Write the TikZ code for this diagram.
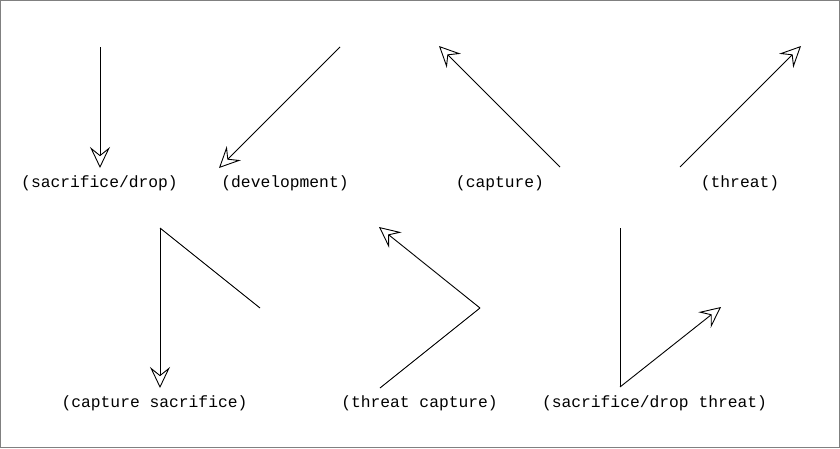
\documentclass[tikz,border=0pt]{standalone}
\usepackage{fontspec}
\setmonofont{Liberation Mono}
\usetikzlibrary{arrows.meta}
\tikzset{
  mv/.style={draw=black, line width=0.9pt, -{Stealth[open, fill=white, length=21pt, width=20pt, inset=8pt]}},
  seg/.style={draw=black, line width=0.9pt},
  lbl/.style={font=\ttfamily\fontsize{16.3}{19}\selectfont, inner sep=0pt, anchor=center}
}
\begin{document}
\begin{tikzpicture}[x=1pt, y=-1pt]
\useasboundingbox (0,0) rectangle (840,448);
\draw[gray, line width=1pt] (0.5,0.5) rectangle (839.5,447.5);
% row 1
\coordinate (a1) at (100,47); \coordinate (a2) at (100,168);
\draw[mv] (a1) -- (a2);
\node[lbl] (la) at (99.5,183.5) {(sacrifice/drop)};
\coordinate (b1) at (340,47); \coordinate (b2) at (219,168);
\draw[mv] (b1) -- (b2);
\node[lbl] (lb) at (285,183.5) {(development)};
\coordinate (c1) at (560,167); \coordinate (c2) at (439,46);
\draw[mv] (c1) -- (c2);
\node[lbl] (lc) at (500,183.5) {(capture)};
\coordinate (d1) at (680,167); \coordinate (d2) at (801,46);
\draw[mv] (d1) -- (d2);
\node[lbl] (ld) at (740,183.5) {(threat)};
% row 2
\coordinate (e1) at (260,308); \coordinate (e2) at (160,228); \coordinate (e3) at (160,388);
\draw[seg] (e1) -- (e2);
\draw[mv] (e2) -- (e3);
\node[lbl] (le) at (154.5,403.5) {(capture sacrifice)};
\coordinate (f1) at (380,388); \coordinate (f2) at (480,308); \coordinate (f3) at (379,227);
\draw[seg] (f1) -- (f2);
\draw[mv] (f2) -- (f3);
\node[lbl] (lf) at (419.5,403.5) {(threat capture)};
\coordinate (g1) at (620,228); \coordinate (g2) at (620,387); \coordinate (g3) at (721,307);
\draw[seg] (g1) -- (g2);
\draw[mv] (g2) -- (g3);
\node[lbl] (lg) at (654.5,403.5) {(sacrifice/drop threat)};
\end{tikzpicture}
\end{document}
